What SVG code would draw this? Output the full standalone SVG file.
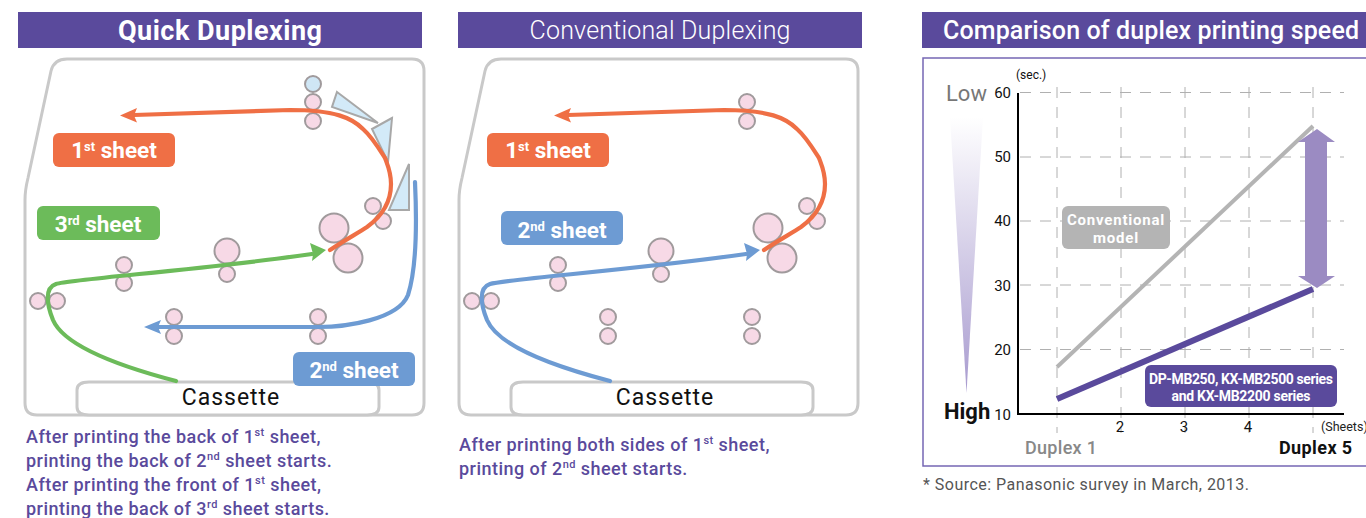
<svg xmlns="http://www.w3.org/2000/svg" width="1366" height="518" viewBox="0 0 1366 518">
<style>
text{font-family:"Roboto","Liberation Sans",sans-serif}
.hd{fill:#5a4a9c}
.ht{fill:#fff;text-anchor:middle;font-size:25px}
.frame{fill:#fff;stroke:#c9c9c9;stroke-width:3}
.r{fill:#f7d9e6;stroke:#a09a9c;stroke-width:2}
.rb{fill:#cfe6f5;stroke:#a09a9c;stroke-width:2}
.tri{fill:#d3eaf8;stroke:#a8a8a8;stroke-width:2;stroke-linejoin:miter}
.p{fill:none;stroke-width:4.200;stroke-linecap:round}
.lab{fill:#fff;font-size:22.500px;font-weight:700;text-anchor:middle}
.sup{font-size:13px}
.cap{fill:#5a4a9c;font-size:18px;font-weight:500;letter-spacing:.46px}
.csup{font-size:11px}
.cas{fill:#111;font-size:23px;text-anchor:middle;letter-spacing:1px}
.gd{stroke:#b0b0b0;stroke-width:1;stroke-dasharray:11 9;fill:none}
.yt{fill:#111;font-size:15px;text-anchor:end}
.xt{fill:#111;font-size:15px;text-anchor:middle}
.bt{fill:#fff;font-weight:700;text-anchor:middle}
</style>
<defs>
<linearGradient id="w" x1="0" y1="0" x2="0" y2="1"><stop offset="0" stop-color="#fff"/><stop offset="1" stop-color="#a89bcf"/></linearGradient>
</defs>

<g id="header-quick"><rect class="hd" x="18" y="12" width="404" height="36"/><text class="ht" x="220" y="40" font-weight="700" style="font-size:27px" textLength="204">Quick Duplexing</text></g>
<g id="header-conventional"><rect class="hd" x="458" y="12" width="404" height="36"/><text class="ht" x="660" y="39" font-weight="300" textLength="261">Conventional Duplexing</text></g>
<g id="header-comparison"><rect class="hd" x="922" y="12" width="444" height="36"/><text class="ht" x="1151" y="39" font-weight="500" textLength="416">Comparison of duplex printing speed</text></g>

<g id="panel-quick">
<path class="frame" d="M37 415H412Q424 415 424 403V71Q424 59 412 59H67Q54 59 51 71L28 178Q25 190 25 200V403Q25 415 37 415Z"/>
<path class="frame" d="M89 382H367Q379 382 379 390V407Q379 415 367 415H89Q77 415 77 407V390Q77 382 89 382Z"/>
<g id="rollers-quick">
<circle class="rb" cx="313" cy="84" r="8"/><circle class="r" cx="313" cy="102" r="8"/><circle class="r" cx="313" cy="121" r="8"/>
<circle class="r" cx="373" cy="206" r="8"/><circle class="r" cx="383" cy="221" r="8"/>
<circle class="r" cx="334" cy="228" r="14.500"/><circle class="r" cx="348" cy="258" r="14.500"/>
<circle class="r" cx="227" cy="251" r="12.500"/><circle class="r" cx="227" cy="274" r="8"/>
<circle class="r" cx="124" cy="265" r="8"/><circle class="r" cx="124" cy="283" r="8"/>
<circle class="r" cx="38" cy="301" r="8"/><circle class="r" cx="57" cy="301" r="8"/>
<circle class="r" cx="174" cy="317" r="8"/><circle class="r" cx="174" cy="336" r="8"/>
<circle class="r" cx="318" cy="317" r="8"/><circle class="r" cx="318" cy="336" r="8"/>
<polygon class="tri" points="337,92 378,123 332,107"/>
<polygon class="tri" points="392,118 372,129 388,162"/>
<polygon class="tri" points="409,164 409,210 389,210"/>
</g>
<g id="connectors-quick">
<path class="p" stroke="#6cbb5a" d="M176 381C130 369 65 348 53 320C47 305 44 288 56 284C72 279 200 270 312 254"/>
<polygon fill="#6cbb5a" points="326,250 310,243 313,254 312,261"/>
<path class="p" stroke="#6d9bd3" d="M415 182C417 225 416 270 408 295C398 320 345 327 318 327L158 327"/>
<polygon fill="#6d9bd3" points="144,327 161,320 158,327 161,334"/>
<path class="p" stroke="#ef6f45" d="M330 250C345 240 358 233 367 227C378 219 391 205 391 184C391 172 388 166 385 158C378 147 372 137 363 129C352 118 335 110 290 110L134 115"/>
<polygon fill="#ef6f45" points="120,115.500 137,108 134,115.500 137,122.500"/>
</g>
<g id="label-1st"><rect x="53" y="133" width="122" height="34" rx="6" fill="#ef6f45"/><text class="lab" x="114" y="158">1<tspan class="sup" dy="-7">st</tspan><tspan dy="7"> sheet</tspan></text></g>
<g id="label-3rd"><rect x="37" y="206" width="123" height="34" rx="6" fill="#6cbb5a"/><text class="lab" x="98" y="232">3<tspan class="sup" dy="-7">rd</tspan><tspan dy="7"> sheet</tspan></text></g>
<g id="label-2nd"><rect x="293" y="352" width="122" height="34" rx="6" fill="#6d9bd3"/><text class="lab" x="354" y="378">2<tspan class="sup" dy="-7">nd</tspan><tspan dy="7"> sheet</tspan></text></g>
<text class="cas" x="231" y="405">Cassette</text>
</g>

<g id="panel-conventional">
<path class="frame" d="M471 415H846Q858 415 858 403V71Q858 59 846 59H501Q488 59 485 71L462 178Q459 190 459 200V403Q459 415 471 415Z"/>
<path class="frame" d="M523 382H801Q813 382 813 390V407Q813 415 801 415H523Q511 415 511 407V390Q511 382 523 382Z"/>
<g id="rollers-conventional">
<circle class="r" cx="747" cy="102" r="8"/><circle class="r" cx="747" cy="121" r="8"/>
<circle class="r" cx="807" cy="206" r="8"/><circle class="r" cx="817" cy="221" r="8"/>
<circle class="r" cx="768" cy="228" r="14.500"/><circle class="r" cx="782" cy="258" r="14.500"/>
<circle class="r" cx="661" cy="251" r="12.500"/><circle class="r" cx="661" cy="274" r="8"/>
<circle class="r" cx="558" cy="265" r="8"/><circle class="r" cx="558" cy="283" r="8"/>
<circle class="r" cx="472" cy="301" r="8"/><circle class="r" cx="491" cy="301" r="8"/>
<circle class="r" cx="608" cy="317" r="8"/><circle class="r" cx="608" cy="336" r="8"/>
<circle class="r" cx="752" cy="317" r="8"/><circle class="r" cx="752" cy="336" r="8"/>
</g>
<g id="connectors-conventional">
<path class="p" stroke="#6d9bd3" d="M610 381C564 369 499 348 487 320C481 305 478 288 490 284C506 279 634 270 746 254"/>
<polygon fill="#6d9bd3" points="760,250 744,243 747,254 746,261"/>
<path class="p" stroke="#ef6f45" d="M764 250C779 240 792 233 801 227C812 219 825 205 825 184C825 172 822 166 819 158C812 147 806 137 797 129C786 118 769 110 724 110L568 115"/>
<polygon fill="#ef6f45" points="554,115.500 571,108 568,115.500 571,122.500"/>
</g>
<g id="label-1st-conv"><rect x="487" y="133" width="122" height="34" rx="6" fill="#ef6f45"/><text class="lab" x="548" y="158">1<tspan class="sup" dy="-7">st</tspan><tspan dy="7"> sheet</tspan></text></g>
<g id="label-2nd-conv"><rect x="501" y="211" width="122" height="34" rx="6" fill="#6d9bd3"/><text class="lab" x="562" y="238">2<tspan class="sup" dy="-7">nd</tspan><tspan dy="7"> sheet</tspan></text></g>
<text class="cas" x="665" y="405">Cassette</text>
</g>

<g id="captions">
<text class="cap" x="26" y="443">After printing the back of 1<tspan class="csup" dy="-7">st</tspan><tspan dy="7"> sheet,</tspan></text>
<text class="cap" x="26" y="467">printing the back of 2<tspan class="csup" dy="-7">nd</tspan><tspan dy="7"> sheet starts.</tspan></text>
<text class="cap" x="26" y="491">After printing the front of 1<tspan class="csup" dy="-7">st</tspan><tspan dy="7"> sheet,</tspan></text>
<text class="cap" x="26" y="515">printing the back of 3<tspan class="csup" dy="-7">rd</tspan><tspan dy="7"> sheet starts.</tspan></text>
<text class="cap" x="459" y="451">After printing both sides of 1<tspan class="csup" dy="-7">st</tspan><tspan dy="7"> sheet,</tspan></text>
<text class="cap" x="459" y="475">printing of 2<tspan class="csup" dy="-7">nd</tspan><tspan dy="7"> sheet starts.</tspan></text>
</g>

<g id="chart">
<path d="M923 58H1367V466H923Z" fill="#fff" stroke="#7667b4" stroke-width="1.500"/>
<path class="gd" d="M1020 92.500H1344M1020 157H1344M1020 221H1344M1020 285H1344M1020 349.500H1344"/>
<path class="gd" d="M1057 87V433M1121 87V433M1185 87V433M1249 87V433M1313 87V433"/>
<path d="M1018 93V414H1344" fill="none" stroke="#000" stroke-width="2"/>
<polygon fill="url(#w)" points="950,117 983,117 966.500,393"/>
<line x1="1057" y1="367" x2="1313" y2="126" stroke="#b4b4b4" stroke-width="4"/>
<line x1="1057" y1="399" x2="1313" y2="289" stroke="#5a4a9c" stroke-width="6"/>
<polygon fill="#9b8bc2" points="1317,129 1335,142 1327,142 1327,276 1335,276 1317,288 1298,276 1305,276 1305,142 1298,142"/>
<text x="1016" y="79" fill="#111" font-size="12">(sec.)</text>
<text class="yt" x="1011" y="98">60</text><text class="yt" x="1011" y="162">50</text><text class="yt" x="1011" y="226">40</text><text class="yt" x="1011" y="291">30</text><text class="yt" x="1011" y="355">20</text><text class="yt" x="1011" y="420">10</text>
<text x="946" y="101" fill="#777" font-size="22">Low</text>
<text x="944" y="419" fill="#111" font-size="22" font-weight="700">High</text>
<text class="xt" x="1120" y="432">2</text><text class="xt" x="1184" y="432">3</text><text class="xt" x="1248" y="432">4</text>
<text x="1321" y="431" fill="#222" font-size="12.500">(Sheets)</text>
<text x="1025" y="454" fill="#888" font-size="18" font-weight="500" letter-spacing=".3">Duplex 1</text>
<text x="1279" y="454" fill="#111" font-size="18" font-weight="700" letter-spacing=".4">Duplex 5</text>
<g id="label-conventional"><rect x="1062" y="206" width="108" height="43" rx="6" fill="#b4b4b4"/><text class="bt" x="1116" y="225" font-size="15" letter-spacing=".8">Conventional</text><text class="bt" x="1116" y="243" font-size="15" letter-spacing=".8">model</text></g>
<g id="label-models"><rect x="1145" y="365" width="192" height="42" rx="6" fill="#5a4a9c"/><text class="bt" x="1241" y="384" font-size="14" textLength="184">DP-MB250, KX-MB2500 series</text><text class="bt" x="1241" y="401" font-size="14" textLength="139">and KX-MB2200 series</text></g>
</g>
<text x="923" y="490" fill="#555" font-size="16" textLength="326">* Source: Panasonic survey in March, 2013.</text>
</svg>
